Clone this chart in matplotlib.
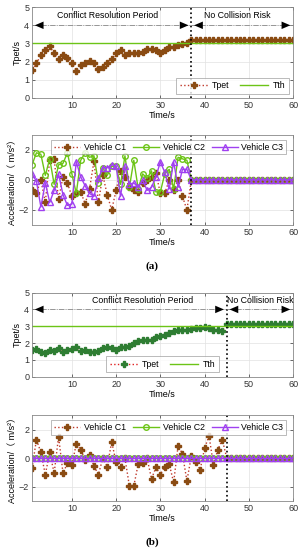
import numpy as np
import matplotlib.pyplot as plt

plt.rcParams['font.family'] = ['Liberation Sans', 'Noto Sans CJK SC', 'DejaVu Sans']
plt.rcParams['font.size'] = 6

# ---- data (a) ----
t = np.arange(1, 61)
tpet_a_conf = [1.55, 1.9, 2.35, 2.65, 2.85, 2.45, 2.15, 2.38, 2.2, 1.95,
               1.5, 1.8, 1.92, 2.05, 1.92, 1.58, 1.72, 1.9, 2.12, 2.45,
               2.62, 2.38, 2.5, 2.48, 2.48, 2.55, 2.68, 2.68, 2.65, 2.5,
               2.65, 2.82, 2.8, 2.92, 2.97, 3.02]
tpet_a_safe = 3.2
tth = 3.0
split_a = 37

acc_a_c1 = [-0.7, -0.9, 0.0, -1.5, 1.35, 1.4, -1.3, 0.2, -0.2, -1.1,
            -0.9, -0.8, -1.6, -0.6, 1.25, -1.5, 0.3, -1.0, -2.0, -0.7,
            0.6, 0.2, -0.5, -0.7, -0.8, -0.2, 0.0, 0.2, 0.45, -0.9,
            -0.9, 0.0, -0.7, 0.0, -1.1, -2.0]
acc_a_c2 = [1.0, 1.8, 1.7, 0.3, 1.4, -0.3, 1.0, 1.1, 1.8, 0.4,
            -0.9, 1.3, 1.8, 1.5, 1.6, -0.2, 0.8, 0.3, 0.9, 0.9,
            -0.3, 1.6, -0.5, 1.3, -0.6, 0.4, 0.1, 0.6, -0.8, -0.8,
            0.4, 0.7, -0.6, 1.5, 1.4, 1.3]
acc_a_c3 = [0.4, -0.1, -1.8, -0.2, -1.5, -0.7, 0.4, -1.0, -1.7, -1.6,
            1.2, 0.2, -0.4, -0.9, -1.1, 0.1, 0.8, 0.8, 1.0, 0.9,
            -1.1, 0.9, -0.3, -0.2, -0.5, 0.0, -0.7, -0.5, 0.2, 1.2,
            0.5, -0.6, 1.2, -0.5, 0.7, 0.7]

# ---- data (b) ----
tpet_b_conf = [1.6, 1.65, 1.5, 1.4, 1.6, 1.55, 1.7, 1.45, 1.6, 1.65,
               1.75, 1.55, 1.6, 1.5, 1.5, 1.55, 1.7, 1.75, 1.7, 1.6,
               1.75, 1.75, 1.85, 2.0, 2.1, 2.2, 2.2, 2.2, 2.35, 2.45,
               2.5, 2.6, 2.7, 2.8, 2.75, 2.75, 2.85, 2.9, 2.9, 2.95,
               2.9, 2.75, 2.75, 2.7]
tpet_b_safe = 3.15
split_b = 45

acc_b_c1 = [-0.7, 1.3, 0.4, -1.15, 0.4, -1.05, 1.5, -1.05, -0.35, -0.5,
            1.0, 0.6, -0.1, 0.25, -0.55, -1.15, 0.0, -0.6, 1.15, -0.3,
            -0.65, 0.0, -1.95, -1.95, -0.4, -0.35, 0.0, -1.45, -0.65, -1.15,
            -0.6, -0.4, -1.7, 0.85, 0.3, -1.6, 0.15, -0.3, -0.8, 0.7,
            1.55, -0.45, 0.6, 1.3]

c_tpet = '#8a4b12'
c_dot = '#c0392b'
c_green = '#6cc417'
c_purple = '#a040f0'
c_grid = '#e2e2e2'


def full(conf, after):
    return np.concatenate([conf, np.full(60 - len(conf), after)])


def style(ax, ylim, yticks):
    ax.set_xlim(1, 60)
    ax.set_ylim(*ylim)
    ax.set_xticks([10, 20, 30, 40, 50, 60])
    ax.set_yticks(yticks)
    ax.grid(True, color=c_grid, lw=0.5)
    ax.set_axisbelow(True)
    ax.tick_params(direction='in', length=2, width=0.5, labelsize=6.5,
                   top=True, right=True, colors='#333333', pad=2)
    for s in ax.spines.values():
        s.set_color('#888888')
        s.set_linewidth(0.6)
    ax.set_xlabel('Time/s', fontsize=6.5, labelpad=1)


def arrows(ax, x0, x1, y):
    ax.plot([x0, x1], [y, y], color='#888888', ls='-.', lw=0.6)
    hs = 'simple,head_length=0.7,head_width=0.6,tail_width=0.01'
    ax.annotate('', xy=(x1, y), xytext=(x1 - 2.5, y),
                arrowprops=dict(arrowstyle=hs, color='k', lw=0, mutation_scale=9))
    ax.annotate('', xy=(x0, y), xytext=(x0 + 2.5, y),
                arrowprops=dict(arrowstyle=hs, color='k', lw=0, mutation_scale=9))


def tpet_panel(ax, conf, safe, split, mfc, lc, leg_loc, txt1_x, txt2_x):
    y = full(conf, safe)
    ax.plot(t, y, ls=':', color=lc, lw=1.0, marker='P', ms=4.2,
            mfc=mfc, mec=mfc, label='Tpet')
    ax.plot([1, 60], [tth, tth], color=c_green, lw=1.0, label='Tth')
    ax.axvline(split, color='k', ls=':', lw=1.2)
    arrows(ax, 1, split, 4)
    arrows(ax, split, 60, 4)
    ax.text(txt1_x, 4.55, 'Conflict Resolution Period', ha='center', va='center', fontsize=6.3)
    ax.text(txt2_x, 4.55, 'No Collision Risk', ha='center', va='center', fontsize=6.3)
    style(ax, (0, 5), [0, 1, 2, 3, 4, 5])
    ax.set_ylabel('Tpet/s', fontsize=6.5, labelpad=2)
    ax.legend(loc=leg_loc, ncol=2, fontsize=6.3, frameon=True, fancybox=False,
              edgecolor='#888888', handlelength=3.2, borderpad=0.4,
              columnspacing=1.2, handletextpad=0.5).get_frame().set_linewidth(0.5)


def acc_panel(ax, c1, c2, c3, split):
    ax.plot(t, full(c1, 0), ls=':', color=c_dot, lw=1.0, marker='P', ms=4.2,
            mfc=c_tpet, mec=c_tpet, label='Vehicle C1')
    y2 = full(c2, 0) if c2 is not None else np.zeros(60)
    y3 = full(c3, 0) if c3 is not None else np.zeros(60)
    ax.plot(t, y2, ls='-', color=c_green, lw=1.0, marker='o', ms=4,
            mfc='none', mec=c_green, label='Vehicle C2')
    ax.plot(t, y3, ls='-', color=c_purple, lw=1.0, marker='^', ms=4.5,
            mfc='none', mec=c_purple, label='Vehicle C3')
    ax.axvline(split, color='k', ls=':', lw=1.2)
    style(ax, (-3, 3), [-2, 0, 2])
    ax.set_ylabel('Acceleration/（ m/s²）', fontsize=6.5, labelpad=1)
    ax.legend(loc='upper right', ncol=3, fontsize=6.3, frameon=True, fancybox=False,
              edgecolor='#888888', handlelength=3, borderpad=0.3,
              columnspacing=0.8, handletextpad=0.4,
              bbox_to_anchor=(0.99, 0.99)).get_frame().set_linewidth(0.5)


fig = plt.figure(figsize=(3.05, 5.5), dpi=100)
left, width = 0.105, 0.856
ax1 = fig.add_axes([left, 0.822, width, 0.165])
ax2 = fig.add_axes([left, 0.591, width, 0.164])
ax3 = fig.add_axes([left, 0.315, width, 0.153])
ax4 = fig.add_axes([left, 0.089, width, 0.156])

tpet_panel(ax1, tpet_a_conf, tpet_a_safe, split_a, c_tpet, c_dot, 'lower right', 18, 47.5)
acc_panel(ax2, acc_a_c1, acc_a_c2, acc_a_c3, split_a)
tpet_panel(ax3, tpet_b_conf, tpet_b_safe, split_b, '#2e7d32', '#e02020', 'lower center', 26, 52.7)
acc_panel(ax4, acc_b_c1, None, None, split_b)

fig.text(0.5, 1 - 266 / 550, '(a)', ha='center', va='center', fontsize=8,
         fontweight='bold', family='Liberation Serif')
fig.text(0.5, 1 - 542 / 550, '(b)', ha='center', va='center', fontsize=8,
         fontweight='bold', family='Liberation Serif')

fig.savefig('out.png', dpi=100)
